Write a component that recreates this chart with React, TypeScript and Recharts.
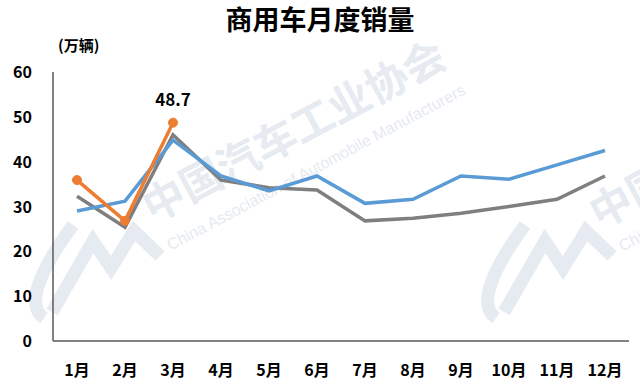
import React from "react";
import { LineChart, Line, XAxis, YAxis, LabelList, Customized } from "recharts";

const months = ["1月", "2月", "3月", "4月", "5月", "6月", "7月", "8月", "9月", "10月", "11月", "12月"];
const blueSeries = [29.0, 31.2, 44.8, 36.8, 33.5, 36.8, 30.7, 31.6, 36.8, 36.1, 39.3, 42.5];
const graySeries = [32.3, 25.4, 46.0, 35.9, 34.2, 33.7, 26.8, 27.4, 28.5, 30.0, 31.6, 36.8];
const orangeSeries = [35.9, 26.8, 48.7];
const yTicks = [0, 10, 20, 30, 40, 50, 60];

const data = months.map((m, i) => ({
  name: m,
  blue: blueSeries[i],
  gray: graySeries[i],
  orange: i < orangeSeries.length ? orangeSeries[i] : null,
}));

const FONT = "'Noto Sans CJK SC', 'Noto Sans', sans-serif";
const WM = "#e6eaf1";

const YTick = ({ y, payload }: any) => (
  <text x={32} y={y + 6} textAnchor="end" fontSize={16} fontWeight="bold" fontFamily={FONT} fill="#000">
    {payload.value}
  </text>
);

const XTick = ({ x, y, payload }: any) => (
  <text x={x} y={y + 27} textAnchor="middle" fontSize={16} fontWeight="bold" fontFamily={FONT} fill="#000">
    {payload.value}
  </text>
);

const LastLabel = ({ x, y, index, value }: any) => {
  if (index !== orangeSeries.length - 1) return null;
  return (
    <text x={x} y={y - 17} textAnchor="middle" fontSize={17} fontWeight="bold" fontFamily={FONT} fill="#000">
      {value}
    </text>
  );
};

// faint association watermark (logo + name), drawn behind the lines
const Watermark = () => {
  const mark = (cx: number, cy: number, lx: number, ly: number, key: string) => (
    <g key={key}>
      <text
        x={cx}
        y={cy}
        transform={`rotate(-28 ${cx} ${cy})`}
        dominantBaseline="central"
        fontSize={42}
        fontWeight="bold"
        fontFamily={FONT}
        fill={WM}
      >
        中国汽车工业协会
      </text>
      <text
        x={lx}
        y={ly}
        transform={`rotate(-28 ${lx} ${ly})`}
        dominantBaseline="central"
        fontSize={16}
        fontFamily="'Liberation Sans', Arial, sans-serif"
        fill={WM}
      >
        China Association of Automobile Manufacturers
      </text>
    </g>
  );
  const logo = (dx: number, key: string) => (
    <g key={key} transform={`translate(${dx} 0)`} fill="none" stroke={WM} strokeWidth={13}>
      <path d="M 73 225 Q 18 300 44 318" />
      <path d="M 52 312 L 93 241 L 111 268 L 134 231 L 160 256" strokeLinejoin="miter" />
    </g>
  );
  return (
    <g>
      {logo(0, "l1")}
      {logo(452, "l2")}
      {mark(144, 207, 168, 246, "m1")}
      {mark(591, 213, 620, 247, "m2")}
    </g>
  );
};

const Titles = () => (
  <g fontFamily={FONT} fontWeight="bold" fill="#000">
    <text x={320} y={30} textAnchor="middle" fontSize={27}>
      商用车月度销量
    </text>
    <text x={58} y={51} fontSize={15}>
      (万辆)
    </text>
  </g>
);

export default function App() {
  return (
    <div style={{ position: "absolute", left: 0, top: 0, width: 640, height: 384, background: "#fff" }}>
      <LineChart width={640} height={384} data={data} margin={{ top: 72, right: 11, bottom: 13, left: 0 }}>
        <Customized component={Watermark} />
        <Customized component={Titles} />
        <XAxis
          dataKey="name"
          height={30}
          padding={{ left: 24, right: 24 }}
          axisLine={{ stroke: "#595959", strokeWidth: 1.5 }}
          tickLine={false}
          tick={<XTick />}
          interval={0}
        />
        <YAxis
          width={53}
          domain={[0, 60]}
          ticks={yTicks}
          axisLine={{ stroke: "#595959", strokeWidth: 1.5 }}
          tickLine={false}
          tick={<YTick />}
        />
        <Line type="linear" dataKey="gray" stroke="#7f7f7f" strokeWidth={3.5} dot={false} isAnimationActive={false} />
        <Line type="linear" dataKey="blue" stroke="#5b9bd5" strokeWidth={3.5} dot={false} isAnimationActive={false} />
        <Line
          type="linear"
          dataKey="orange"
          stroke="#ed7d31"
          strokeWidth={3.5}
          dot={{ r: 4.5, fill: "#ed7d31", stroke: "#ed7d31", strokeWidth: 1 }}
          isAnimationActive={false}
        >
          <LabelList dataKey="orange" content={<LastLabel />} />
        </Line>
      </LineChart>
    </div>
  );
}
